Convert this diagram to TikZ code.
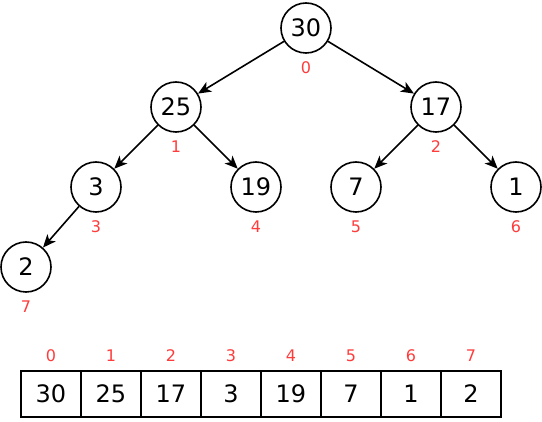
\documentclass[tikz,border=0pt]{standalone}
\usepackage{fontspec}
\setmainfont{DejaVu Sans}
\usetikzlibrary{arrows.meta}
\definecolor{idxred}{RGB}{255,60,60}
\begin{document}
\begin{tikzpicture}[x=1pt, y=-1pt]
  \useasboundingbox (0,0) rectangle (542,422);
  \tikzset{vertex/.style = {shape=circle,draw,line width=1.6pt,minimum size=50pt,inner sep=0pt,font=\fontsize{24}{24}\selectfont}}
  \tikzset{edge/.style = {-{Stealth[length=13pt,width=11pt,inset=3.5pt]},line width=1.6pt}}
  \tikzset{idx/.style = {text=idxred,font=\fontsize{16}{16}\selectfont}}
  \tikzset{cell/.style = {shape=rectangle,draw,line width=1.6pt,minimum width=60pt,minimum height=46pt,inner sep=0pt,text height=17.5pt,text depth=0pt,font=\fontsize{24}{24}\selectfont}}
  % vertices
  \node[vertex] (v0) at (306,28)  {30};
  \node[vertex] (v1) at (176,107) {25};
  \node[vertex] (v2) at (436,107) {17};
  \node[vertex] (v3) at (96,187)  {3};
  \node[vertex] (v4) at (256,187) {19};
  \node[vertex] (v5) at (356,187) {7};
  \node[vertex] (v6) at (516,187) {1};
  \node[vertex] (v7) at (26,267)  {2};
  % indices
  \node[idx] (i0) at (306,68)  {0};
  \node[idx] (i1) at (176,147) {1};
  \node[idx] (i2) at (436,147) {2};
  \node[idx] (i3) at (96,227)  {3};
  \node[idx] (i4) at (256,227) {4};
  \node[idx] (i5) at (356,227) {5};
  \node[idx] (i6) at (516,227) {6};
  \node[idx] (i7) at (26,307)  {7};
  %edges
  \draw[edge] (v0) -- (v1);
  \draw[edge] (v0) -- (v2);
  \draw[edge] (v1) -- (v3);
  \draw[edge] (v1) -- (v4);
  \draw[edge] (v2) -- (v5);
  \draw[edge] (v2) -- (v6);
  \draw[edge] (v3) -- (v7);
  % array
  \foreach \val [count=\i from 0] in {30,25,17,3,19,7,1,2} {
    \node[cell] (a\i) at (51+60*\i,394) {\val};
    \node[idx] (k\i) at (51+60*\i,356) {\i};
  }
\end{tikzpicture}
\end{document}
